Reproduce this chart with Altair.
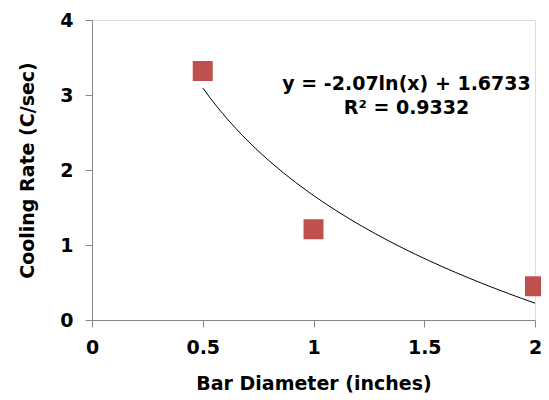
import altair as alt
import pandas as pd

diameters = [0.5, 1.0, 2.0]
cooling_rates = [3.32, 1.21, 0.45]

eq_text = ["y = -2.07ln(x) + 1.6733", "R² = 0.9332"]
eq_x = [1.42, 1.42]
eq_y = [3.15, 2.83]

df = pd.DataFrame({"d": diameters, "r": cooling_rates})
df_eq = pd.DataFrame({"t": eq_text, "x": eq_x, "y": eq_y})

FONT = "DejaVu Sans"

xscale = alt.Scale(domain=[0, 2], nice=False)
yscale = alt.Scale(domain=[0, 4], nice=False)

xaxis = alt.Axis(values=[0, 0.5, 1, 1.5, 2], format="~g", title="Bar Diameter (inches)", grid=False,
                 labelFontSize=19, labelFontWeight="bold", labelFont=FONT, labelColor="black",
                 titleFontSize=19, titleFontWeight="bold", titleFont=FONT, titleColor="black",
                 tickSize=7, labelPadding=11, titlePadding=17, domainColor="#888888",
                 tickColor="#888888", labelFlush=False, labelOverlap=False)
yaxis = alt.Axis(values=[0, 1, 2, 3, 4], format="d", title="Cooling Rate (C/sec)", grid=False,
                 labelFontSize=19, labelFontWeight="bold", labelFont=FONT, labelColor="black",
                 titleFontSize=19, titleFontWeight="bold", titleFont=FONT, titleColor="black",
                 tickSize=7, labelPadding=12, titlePadding=22, domainColor="#888888",
                 tickColor="#888888", labelFlush=False, labelOverlap=False)

base = alt.Chart(df)

trend = base.transform_regression("d", "r", method="log", extent=[0.5, 2]).mark_line(
    color="black", strokeWidth=1
).encode(x=alt.X("d:Q", scale=xscale, axis=xaxis), y=alt.Y("r:Q", scale=yscale, axis=yaxis))

pts = base.mark_square(size=400, color="#C0504D", opacity=1).encode(
    x=alt.X("d:Q", scale=xscale), y=alt.Y("r:Q", scale=yscale)
)

txt = alt.Chart(df_eq).mark_text(font=FONT, fontSize=19, fontWeight="bold", color="black",
                                 align="center", baseline="middle").encode(
    x=alt.X("x:Q", scale=xscale), y=alt.Y("y:Q", scale=yscale), text="t:N"
)

chart = alt.layer(trend, pts, txt).properties(
    width=443, height=300,
    autosize=alt.AutoSizeParams(type="none"),
    padding={"left": 84, "top": 12, "right": 6, "bottom": 80},
).configure_view(stroke=None).configure(background="white")

chart.save("out.html", embed_options={"renderer": "svg", "actions": False})
